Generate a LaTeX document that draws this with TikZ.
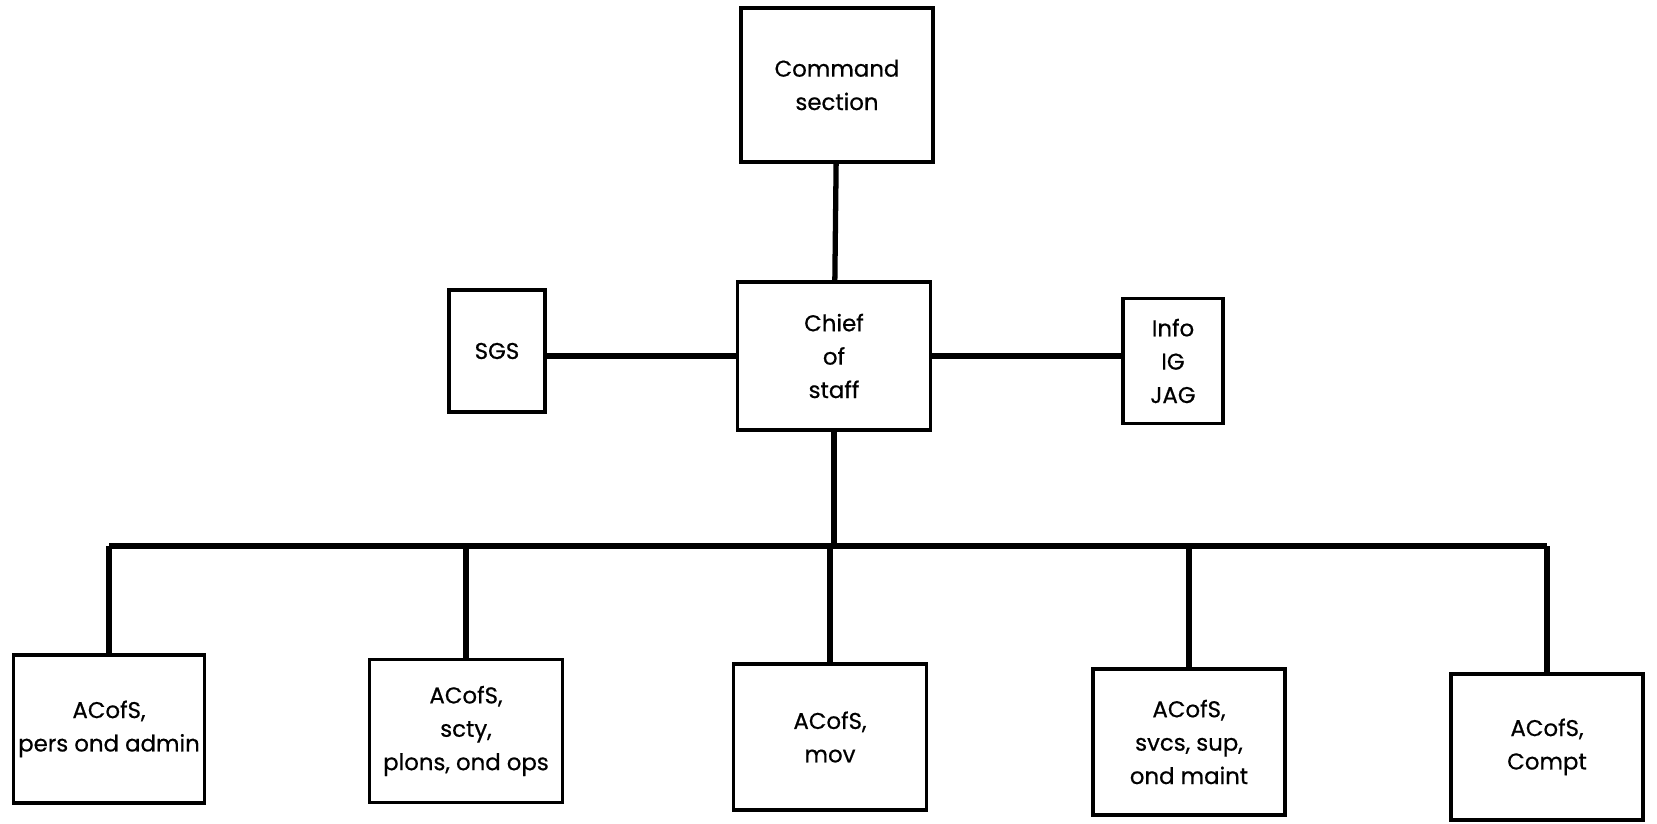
\documentclass[tikz,border=0pt]{standalone}
\usepackage{fontspec}
\setmainfont{Poppins}[FakeBold=0.6]
\usetikzlibrary{positioning,calc}

\begin{document}
\begin{tikzpicture}[x=0.02cm,y=-0.02cm,thick,
	box/.style 2 args={draw,line width=2.2pt,align=center,inner sep=0pt,
		minimum width=#1*0.02cm,minimum height=#2*0.02cm,
		font=\fontsize{13}{19}\selectfont},
	link/.style={line width=3pt}]

\def\busy{546}

\useasboundingbox (0,0) rectangle (1657,824);

% top of the chart
\node[box={192}{154}] (cmd) at (837,85) {Command\\section};
\node[box={193}{148}] (chief) at (834,356) {Chief\\of\\staff};
\node[box={96}{122}] (sgs) at (497,351) {SGS};
\node[box={100}{125}] (info) at (1173,361) {Info\\IG\\JAG};

% the five assistant chiefs
\node[box={191}{148}] (pers) at (109,729) {ACofS,\\pers ond admin};
\node[box={193}{143}] (scty) at (466,731) {ACofS,\\scty,\\plons, ond ops};
\node[box={193}{146}] (mov) at (830,737) {ACofS,\\mov};
\node[box={192}{146}] (svcs) at (1189,742) {ACofS,\\svcs, sup,\\ond maint};
\node[box={192}{146}] (compt) at (1547,747) {ACofS,\\Compt};

\coordinate (busL) at (pers.north |- 0,\busy);
\coordinate (busR) at (compt.north |- 0,\busy);

\draw[link] (cmd) -- (chief);
\draw[link] (sgs.east |- chief) -- (chief.west);
\draw[link] (chief.east) -- (chief -| info.west);
\draw[link] (chief.south) -- (chief |- busL);
\draw[link] (busL) -- (busR);
\foreach \n in {pers,scty,mov,svcs,compt}
	\draw[link] (\n.north) -- (\n.north |- busL);

\end{tikzpicture}
\end{document}
